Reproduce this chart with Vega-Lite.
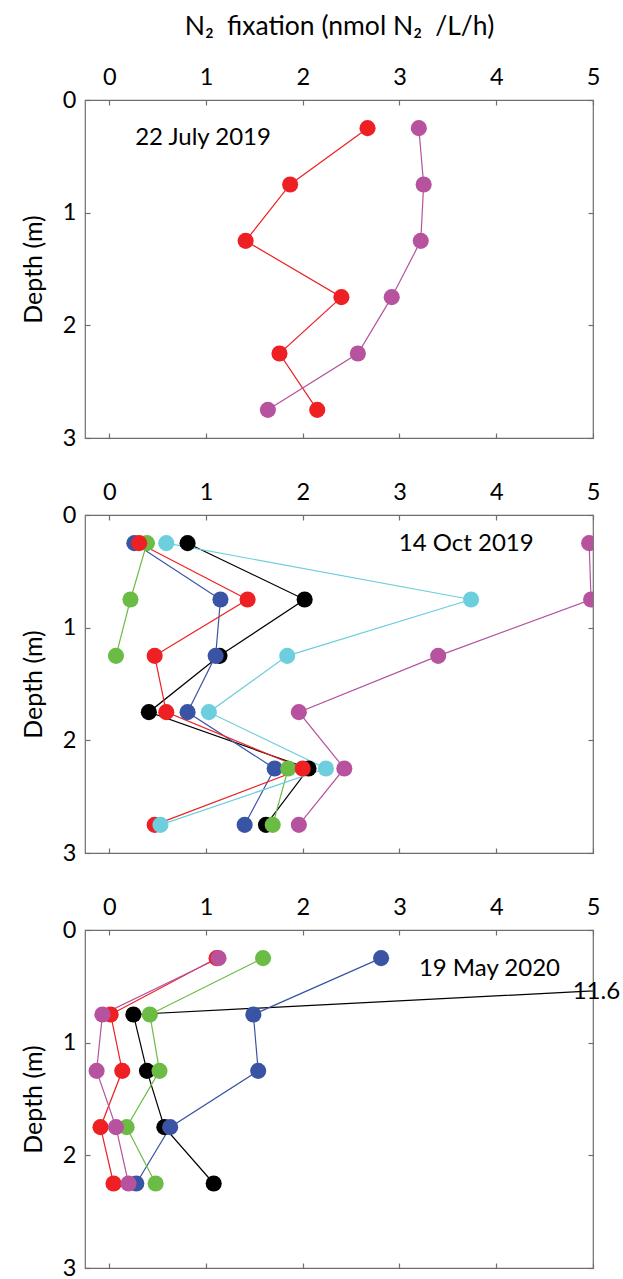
{
  "$schema": "https://vega.github.io/schema/vega-lite/v6.json",
  "padding": {"top": 12, "left": 20, "right": 0, "bottom": 0},
  "config": {
    "view": {"stroke": "#6e6e6e", "strokeWidth": 1.2},
    "font": "Lato",
    "axis": {
      "grid": false,
      "domain": false,
      "tickColor": "#6e6e6e",
      "tickWidth": 1.2,
      "tickSize": -5,
      "labelFont": "Lato",
      "labelFontSize": 23.5,
      "labelColor": "#000000",
      "labelFlush": false,
      "titleFont": "Lato",
      "titleFontSize": 25,
      "titleFontWeight": "normal",
      "titleColor": "#000000",
      "format": "d"
    }
  },
  "datasets": {
    "n2": [
      {"date": "22 July 2019", "series": "red", "depth": 0.25, "n2fix": 2.67},
      {"date": "22 July 2019", "series": "red", "depth": 0.75, "n2fix": 1.87},
      {"date": "22 July 2019", "series": "red", "depth": 1.25, "n2fix": 1.41},
      {"date": "22 July 2019", "series": "red", "depth": 1.75, "n2fix": 2.40},
      {"date": "22 July 2019", "series": "red", "depth": 2.25, "n2fix": 1.76},
      {"date": "22 July 2019", "series": "red", "depth": 2.75, "n2fix": 2.15},
      {"date": "22 July 2019", "series": "magenta", "depth": 0.25, "n2fix": 3.20},
      {"date": "22 July 2019", "series": "magenta", "depth": 0.75, "n2fix": 3.25},
      {"date": "22 July 2019", "series": "magenta", "depth": 1.25, "n2fix": 3.22},
      {"date": "22 July 2019", "series": "magenta", "depth": 1.75, "n2fix": 2.92},
      {"date": "22 July 2019", "series": "magenta", "depth": 2.25, "n2fix": 2.57},
      {"date": "22 July 2019", "series": "magenta", "depth": 2.75, "n2fix": 1.64},

      {"date": "14 Oct 2019", "series": "black", "depth": 0.25, "n2fix": 0.81},
      {"date": "14 Oct 2019", "series": "black", "depth": 0.75, "n2fix": 2.02},
      {"date": "14 Oct 2019", "series": "black", "depth": 1.25, "n2fix": 1.14},
      {"date": "14 Oct 2019", "series": "black", "depth": 1.75, "n2fix": 0.41},
      {"date": "14 Oct 2019", "series": "black", "depth": 2.25, "n2fix": 2.06},
      {"date": "14 Oct 2019", "series": "black", "depth": 2.75, "n2fix": 1.62},
      {"date": "14 Oct 2019", "series": "blue", "depth": 0.25, "n2fix": 0.26},
      {"date": "14 Oct 2019", "series": "blue", "depth": 0.75, "n2fix": 1.15},
      {"date": "14 Oct 2019", "series": "blue", "depth": 1.25, "n2fix": 1.10},
      {"date": "14 Oct 2019", "series": "blue", "depth": 1.75, "n2fix": 0.81},
      {"date": "14 Oct 2019", "series": "blue", "depth": 2.25, "n2fix": 1.71},
      {"date": "14 Oct 2019", "series": "blue", "depth": 2.75, "n2fix": 1.40},
      {"date": "14 Oct 2019", "series": "green", "depth": 0.25, "n2fix": 0.39},
      {"date": "14 Oct 2019", "series": "green", "depth": 0.75, "n2fix": 0.22},
      {"date": "14 Oct 2019", "series": "green", "depth": 1.25, "n2fix": 0.07},
      {"date": "14 Oct 2019", "series": "green", "depth": 1.75, "n2fix": null},
      {"date": "14 Oct 2019", "series": "green", "depth": 2.25, "n2fix": 1.85},
      {"date": "14 Oct 2019", "series": "green", "depth": 2.75, "n2fix": 1.69},
      {"date": "14 Oct 2019", "series": "red", "depth": 0.25, "n2fix": 0.31},
      {"date": "14 Oct 2019", "series": "red", "depth": 0.75, "n2fix": 1.43},
      {"date": "14 Oct 2019", "series": "red", "depth": 1.25, "n2fix": 0.47},
      {"date": "14 Oct 2019", "series": "red", "depth": 1.75, "n2fix": 0.59},
      {"date": "14 Oct 2019", "series": "red", "depth": 2.25, "n2fix": 2.00},
      {"date": "14 Oct 2019", "series": "red", "depth": 2.75, "n2fix": 0.47},
      {"date": "14 Oct 2019", "series": "cyan", "depth": 0.25, "n2fix": 0.59},
      {"date": "14 Oct 2019", "series": "cyan", "depth": 0.75, "n2fix": 3.74},
      {"date": "14 Oct 2019", "series": "cyan", "depth": 1.25, "n2fix": 1.84},
      {"date": "14 Oct 2019", "series": "cyan", "depth": 1.75, "n2fix": 1.03},
      {"date": "14 Oct 2019", "series": "cyan", "depth": 2.25, "n2fix": 2.24},
      {"date": "14 Oct 2019", "series": "cyan", "depth": 2.75, "n2fix": 0.53},
      {"date": "14 Oct 2019", "series": "magenta", "depth": 0.25, "n2fix": 4.96},
      {"date": "14 Oct 2019", "series": "magenta", "depth": 0.75, "n2fix": 4.98},
      {"date": "14 Oct 2019", "series": "magenta", "depth": 1.25, "n2fix": 3.40},
      {"date": "14 Oct 2019", "series": "magenta", "depth": 1.75, "n2fix": 1.96},
      {"date": "14 Oct 2019", "series": "magenta", "depth": 2.25, "n2fix": 2.43},
      {"date": "14 Oct 2019", "series": "magenta", "depth": 2.75, "n2fix": 1.96},

      {"date": "19 May 2020", "series": "black", "depth": 0.25, "n2fix": 11.6},
      {"date": "19 May 2020", "series": "black", "depth": 0.75, "n2fix": 0.25},
      {"date": "19 May 2020", "series": "black", "depth": 1.25, "n2fix": 0.39},
      {"date": "19 May 2020", "series": "black", "depth": 1.75, "n2fix": 0.57},
      {"date": "19 May 2020", "series": "black", "depth": 2.25, "n2fix": 1.08},
      {"date": "19 May 2020", "series": "blue", "depth": 0.25, "n2fix": 2.81},
      {"date": "19 May 2020", "series": "blue", "depth": 0.75, "n2fix": 1.49},
      {"date": "19 May 2020", "series": "blue", "depth": 1.25, "n2fix": 1.54},
      {"date": "19 May 2020", "series": "blue", "depth": 1.75, "n2fix": 0.63},
      {"date": "19 May 2020", "series": "blue", "depth": 2.25, "n2fix": 0.28},
      {"date": "19 May 2020", "series": "green", "depth": 0.25, "n2fix": 1.59},
      {"date": "19 May 2020", "series": "green", "depth": 0.75, "n2fix": 0.42},
      {"date": "19 May 2020", "series": "green", "depth": 1.25, "n2fix": 0.52},
      {"date": "19 May 2020", "series": "green", "depth": 1.75, "n2fix": 0.18},
      {"date": "19 May 2020", "series": "green", "depth": 2.25, "n2fix": 0.48},
      {"date": "19 May 2020", "series": "red", "depth": 0.25, "n2fix": 1.11},
      {"date": "19 May 2020", "series": "red", "depth": 0.75, "n2fix": 0.015},
      {"date": "19 May 2020", "series": "red", "depth": 1.25, "n2fix": 0.135},
      {"date": "19 May 2020", "series": "red", "depth": 1.75, "n2fix": -0.09},
      {"date": "19 May 2020", "series": "red", "depth": 2.25, "n2fix": 0.045},
      {"date": "19 May 2020", "series": "magenta", "depth": 0.25, "n2fix": 1.13},
      {"date": "19 May 2020", "series": "magenta", "depth": 0.75, "n2fix": -0.07},
      {"date": "19 May 2020", "series": "magenta", "depth": 1.25, "n2fix": -0.13},
      {"date": "19 May 2020", "series": "magenta", "depth": 1.75, "n2fix": 0.07},
      {"date": "19 May 2020", "series": "magenta", "depth": 2.25, "n2fix": 0.20}
    ]
  },
  "spacing": 77,
  "bounds": "flush",
  "vconcat": [
    {
      "width": 508,
      "height": 338,
      "data": {"name": "n2"},
      "transform": [{"filter": "datum.date === '22 July 2019'"}],
      "layer": [
        {
          "mark": {"type": "line", "strokeWidth": 1.2, "clip": true},
          "encoding": {
            "x": {"field": "n2fix", "type": "quantitative", "scale": {"domain": [-0.25, 5], "nice": false, "zero": false},
                  "axis": {"orient": "top", "values": [0, 1, 2, 3, 4, 5], "labelPadding": 16, "title": "N₂\u2002fixation (nmol N₂\u2002/L/h)", "titleFontSize": 26.5, "titlePadding": 25}},
            "y": {"field": "depth", "type": "quantitative", "scale": {"domain": [0, 3], "reverse": true, "nice": false, "zero": false},
                  "axis": {"orient": "left", "values": [0, 1, 2, 3], "labelPadding": 14, "title": "Depth (m)", "titlePadding": 16}},
            "color": {"field": "series", "type": "nominal", "legend": null,
                      "scale": {"domain": ["black", "blue", "green", "red", "cyan", "magenta"], "range": ["#000000", "#3a54a5", "#6bbc45", "#ee2024", "#6dcedd", "#b6529e"]}},
            "order": {"field": "depth", "type": "quantitative"}
          }
        },
        {
          "mark": {"type": "point", "filled": true, "size": 260, "opacity": 1, "strokeWidth": 0, "clip": true},
          "encoding": {
            "x": {"field": "n2fix", "type": "quantitative", "scale": {"domain": [-0.25, 5], "nice": false, "zero": false},
                  "axis": {"orient": "bottom", "values": [0, 1, 2, 3, 4, 5], "labels": false, "title": null}},
            "y": {"field": "depth", "type": "quantitative", "scale": {"domain": [0, 3], "reverse": true, "nice": false, "zero": false},
                  "axis": {"orient": "right", "values": [0, 1, 2, 3], "labels": false, "title": null}},
            "color": {"field": "series", "type": "nominal", "legend": null,
                      "scale": {"domain": ["black", "blue", "green", "red", "cyan", "magenta"], "range": ["#000000", "#3a54a5", "#6bbc45", "#ee2024", "#6dcedd", "#b6529e"]}}
          }
        },
        {
          "data": {"values": [{"label": "22 July 2019"}]},
          "mark": {"type": "text", "font": "Lato", "fontSize": 24, "color": "#000000", "align": "center", "baseline": "middle"},
          "encoding": {
            "x": {"datum": 0.97, "type": "quantitative", "scale": {"domain": [-0.25, 5], "nice": false, "zero": false}, "axis": null},
            "y": {"datum": 0.34, "type": "quantitative", "scale": {"domain": [0, 3], "reverse": true, "nice": false, "zero": false}, "axis": null},
            "text": {"field": "label"}
          }
        }
      ],
      "resolve": {"axis": {"x": "independent", "y": "independent"}}
    },
    {
      "width": 508,
      "height": 338,
      "data": {"name": "n2"},
      "transform": [{"filter": "datum.date === '14 Oct 2019'"}],
      "layer": [
        {
          "mark": {"type": "line", "strokeWidth": 1.2, "clip": true},
          "encoding": {
            "x": {"field": "n2fix", "type": "quantitative", "scale": {"domain": [-0.25, 5], "nice": false, "zero": false},
                  "axis": {"orient": "top", "values": [0, 1, 2, 3, 4, 5], "labelPadding": 16, "title": null}},
            "y": {"field": "depth", "type": "quantitative", "scale": {"domain": [0, 3], "reverse": true, "nice": false, "zero": false},
                  "axis": {"orient": "left", "values": [0, 1, 2, 3], "labelPadding": 14, "title": "Depth (m)", "titlePadding": 16}},
            "color": {"field": "series", "type": "nominal", "legend": null,
                      "scale": {"domain": ["black", "blue", "green", "red", "cyan", "magenta"], "range": ["#000000", "#3a54a5", "#6bbc45", "#ee2024", "#6dcedd", "#b6529e"]}},
            "order": {"field": "depth", "type": "quantitative"}
          }
        },
        {
          "mark": {"type": "point", "filled": true, "size": 260, "opacity": 1, "strokeWidth": 0, "clip": true},
          "encoding": {
            "x": {"field": "n2fix", "type": "quantitative", "scale": {"domain": [-0.25, 5], "nice": false, "zero": false},
                  "axis": {"orient": "bottom", "values": [0, 1, 2, 3, 4, 5], "labels": false, "title": null}},
            "y": {"field": "depth", "type": "quantitative", "scale": {"domain": [0, 3], "reverse": true, "nice": false, "zero": false},
                  "axis": {"orient": "right", "values": [0, 1, 2, 3], "labels": false, "title": null}},
            "color": {"field": "series", "type": "nominal", "legend": null,
                      "scale": {"domain": ["black", "blue", "green", "red", "cyan", "magenta"], "range": ["#000000", "#3a54a5", "#6bbc45", "#ee2024", "#6dcedd", "#b6529e"]}}
          }
        },
        {
          "data": {"values": [{"label": "14 Oct 2019"}]},
          "mark": {"type": "text", "font": "Lato", "fontSize": 24, "color": "#000000", "align": "center", "baseline": "middle"},
          "encoding": {
            "x": {"datum": 3.69, "type": "quantitative", "scale": {"domain": [-0.25, 5], "nice": false, "zero": false}, "axis": null},
            "y": {"datum": 0.255, "type": "quantitative", "scale": {"domain": [0, 3], "reverse": true, "nice": false, "zero": false}, "axis": null},
            "text": {"field": "label"}
          }
        }
      ],
      "resolve": {"axis": {"x": "independent", "y": "independent"}}
    },
    {
      "width": 508,
      "height": 338,
      "data": {"name": "n2"},
      "transform": [{"filter": "datum.date === '19 May 2020'"}],
      "layer": [
        {
          "mark": {"type": "line", "strokeWidth": 1.2, "clip": true},
          "encoding": {
            "x": {"field": "n2fix", "type": "quantitative", "scale": {"domain": [-0.25, 5], "nice": false, "zero": false},
                  "axis": {"orient": "top", "values": [0, 1, 2, 3, 4, 5], "labelPadding": 16, "title": null}},
            "y": {"field": "depth", "type": "quantitative", "scale": {"domain": [0, 3], "reverse": true, "nice": false, "zero": false},
                  "axis": {"orient": "left", "values": [0, 1, 2, 3], "labelPadding": 14, "title": "Depth (m)", "titlePadding": 16}},
            "color": {"field": "series", "type": "nominal", "legend": null,
                      "scale": {"domain": ["black", "blue", "green", "red", "cyan", "magenta"], "range": ["#000000", "#3a54a5", "#6bbc45", "#ee2024", "#6dcedd", "#b6529e"]}},
            "order": {"field": "depth", "type": "quantitative"}
          }
        },
        {
          "mark": {"type": "point", "filled": true, "size": 260, "opacity": 1, "strokeWidth": 0, "clip": true},
          "encoding": {
            "x": {"field": "n2fix", "type": "quantitative", "scale": {"domain": [-0.25, 5], "nice": false, "zero": false},
                  "axis": {"orient": "bottom", "values": [0, 1, 2, 3, 4, 5], "labels": false, "title": null}},
            "y": {"field": "depth", "type": "quantitative", "scale": {"domain": [0, 3], "reverse": true, "nice": false, "zero": false},
                  "axis": {"orient": "right", "values": [0, 1, 2, 3], "labels": false, "title": null}},
            "color": {"field": "series", "type": "nominal", "legend": null,
                      "scale": {"domain": ["black", "blue", "green", "red", "cyan", "magenta"], "range": ["#000000", "#3a54a5", "#6bbc45", "#ee2024", "#6dcedd", "#b6529e"]}}
          }
        },
        {
          "data": {"values": [{"label": "19 May 2020"}]},
          "mark": {"type": "text", "font": "Lato", "fontSize": 24, "color": "#000000", "align": "center", "baseline": "middle"},
          "encoding": {
            "x": {"datum": 3.93, "type": "quantitative", "scale": {"domain": [-0.25, 5], "nice": false, "zero": false}, "axis": null},
            "y": {"datum": 0.345, "type": "quantitative", "scale": {"domain": [0, 3], "reverse": true, "nice": false, "zero": false}, "axis": null},
            "text": {"field": "label"}
          }
        },
        {
          "data": {"values": [{"label": "11.6"}]},
          "mark": {"type": "text", "font": "Lato", "fontSize": 24, "color": "#000000", "align": "center", "baseline": "middle"},
          "encoding": {
            "x": {"datum": 5.035, "type": "quantitative", "scale": {"domain": [-0.25, 5], "nice": false, "zero": false}, "axis": null},
            "y": {"datum": 0.55, "type": "quantitative", "scale": {"domain": [0, 3], "reverse": true, "nice": false, "zero": false}, "axis": null},
            "text": {"field": "label"}
          }
        }
      ],
      "resolve": {"axis": {"x": "independent", "y": "independent"}}
    }
  ]
}
